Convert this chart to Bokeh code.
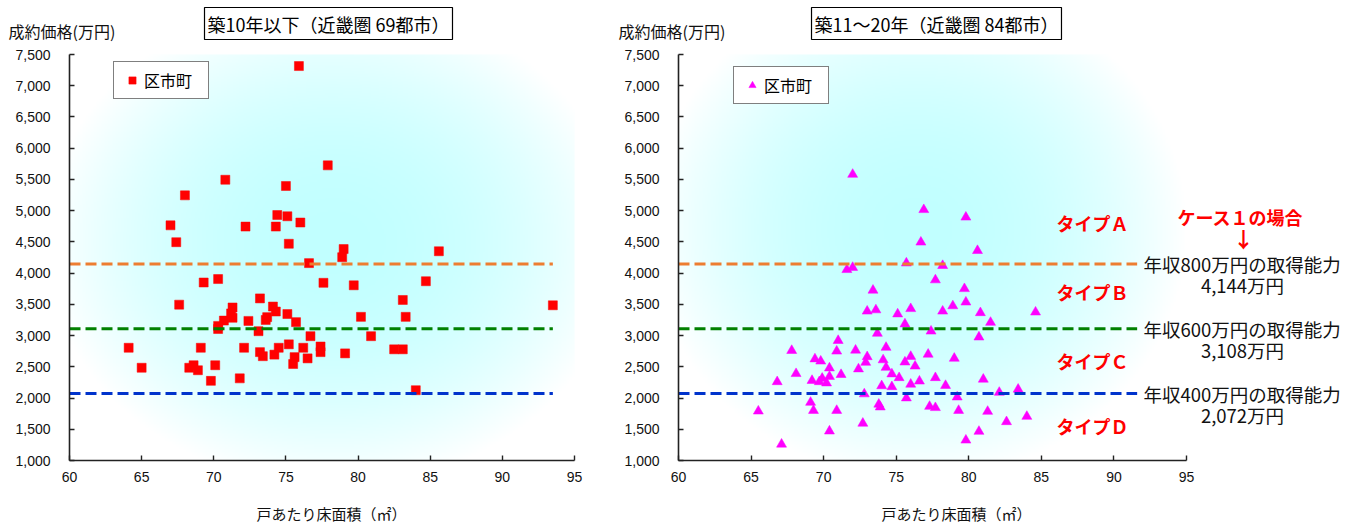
import numpy as np
from bokeh.plotting import figure
from bokeh.layouts import row
from bokeh.models import (Label, Legend, LegendItem, Range1d, FixedTicker,
                          NumeralTickFormatter)
from bokeh.embed import file_html
from bokeh.resources import INLINE

# 築10年以下（近畿圏69都市）: floor area per unit (㎡) and contract price (万円)
new_area = [75.9, 70.8, 68.0, 75.0, 67.0, 72.2, 74.3, 74.4, 75.1, 76.0,
            67.4, 75.2, 77.9, 79.0, 78.9, 85.6, 76.6, 69.3, 70.3, 67.6,
            73.2, 74.1, 74.3, 71.3, 71.2, 71.3, 70.7, 70.3, 70.3, 72.4,
            73.1, 73.7, 73.6, 75.1, 75.7, 76.7, 64.1, 65.0, 68.3, 68.6,
            68.9, 69.8, 70.1, 69.1, 71.8, 72.1, 73.2, 73.4, 74.2, 74.5,
            75.2, 75.6, 75.5, 76.2, 76.5, 77.6, 79.7, 84.7, 83.1, 93.5,
            80.2, 83.3, 80.9, 77.4, 77.4, 79.1, 82.5, 83.1, 84.0]
new_price = [7315, 5495, 5245, 5395, 4765, 4745, 4745, 4930, 4910, 4810,
             4495, 4470, 5725, 4385, 4255, 4350, 4160, 3850, 3905, 3495,
             3595, 3465, 3385, 3450, 3355, 3285, 3240, 3155, 3105, 3235,
             3070, 3295, 3250, 3345, 3215, 2990, 2805, 2485, 2485, 2525,
             2445, 2275, 2525, 2805, 2315, 2805, 2735, 2670, 2695, 2805,
             2860, 2655, 2545, 2805, 2635, 3845, 3805, 3870, 3570, 3485,
             3300, 3300, 2990, 2825, 2735, 2715, 2780, 2780, 2125]

# 築11～20年（近畿圏84都市）
mid_area = [67.8, 69.4, 69.8, 70.4, 68.1, 66.8, 69.2, 69.9, 69.7, 70.2,
            70.4, 70.9, 71.0, 71.2, 69.1, 69.3, 70.9, 65.5, 70.4, 67.1,
            72.0, 76.9, 79.8, 76.7, 80.6, 71.6, 72.0, 75.7, 78.2, 77.7,
            73.4, 79.7, 79.8, 73.0, 73.6, 75.1, 76.0, 78.2, 78.9, 80.8,
            81.5, 75.6, 73.7, 77.4, 80.7, 72.2, 74.3, 73.0, 72.9, 74.1,
            76.0, 77.2, 79.0, 75.6, 76.3, 74.3, 72.4, 74.7, 75.2, 74.0,
            74.7, 76.0, 76.6, 77.7, 78.4, 81.0, 72.8, 75.7, 73.8, 73.9,
            79.2, 82.1, 83.4, 77.3, 77.7, 79.3, 81.3, 84.0, 82.6, 72.7,
            80.7, 79.8, 84.6]
mid_price = [2760, 2625, 2590, 2480, 2390, 2260, 2280, 2315, 2260, 2240,
             2345, 2750, 2920, 2375, 1930, 1800, 1800, 1790, 1470, 1260,
             5580, 5015, 4895, 4495, 4360, 4055, 4090, 4160, 4120, 3890,
             3725, 3750, 3535, 3390, 3410, 3345, 3430, 3390, 3475, 3365,
             3210, 3185, 3035, 3070, 2975, 2765, 2810, 2660, 2570, 2610,
             2665, 2700, 2635, 2575, 2510, 2490, 2465, 2385, 2325, 2195,
             2180, 2220, 2270, 2325, 2200, 2300, 2065, 2000, 1900, 1855,
             2015, 2090, 2140, 1865, 1845, 1800, 1785, 1705, 1620, 1595,
             1465, 1325, 3375]

# purchasing power by annual income (年収, 万円) -> 取得能力 (万円)
incomes = [800, 600, 400]
abilities = [4144, 3108, 2072]
level_colors = ["#ED7D31", "#008000", "#0033CC"]

# price bands between the purchasing-power levels
type_names = ["タイプＡ", "タイプＢ", "タイプＣ", "タイプＤ"]
type_label_y = [4810, 3690, 2590, 1560]

x_ticks = [60, 65, 70, 75, 80, 85, 90, 95]
y_ticks = list(range(1000, 8000, 500))

JP = "Noto Sans CJK JP"
NUM = "Liberation Sans"

X0, X1, Y0, Y1 = 60, 95, 1000, 7500
H = 525
PLOT_TOP, PLOT_BOTTOM = 54, 460          # pixel rows of the 7,500 / 1,000 levels
YPPU = (PLOT_BOTTOM - PLOT_TOP) / (Y1 - Y0)


class Panel:
    """Canvas-filling frame; axes pinned at x=60 / y=1000 and bounded to the data box."""

    def __init__(self, width, left_px, right_px):
        self.xppu = (right_px - left_px) / (X1 - X0)
        self.left_px = left_px
        xs = X0 - left_px / self.xppu
        xe = X1 + (width - right_px) / self.xppu
        ys = Y0 - (H - PLOT_BOTTOM) / YPPU
        ye = Y1 + PLOT_TOP / YPPU
        self.p = figure(width=width, height=H, x_range=Range1d(xs, xe),
                        y_range=Range1d(ys, ye), output_backend="svg",
                        toolbar_location=None, min_border=0,
                        min_border_left=0, min_border_right=0,
                        min_border_top=0, min_border_bottom=0)

    def x(self, px):
        return X0 + (px - self.left_px) / self.xppu

    @staticmethod
    def y(py):
        return Y1 - (py - PLOT_TOP) / YPPU


def gradient(cx, cy, hx, hy, nx=320, ny=260):
    gx = np.linspace(X0, X1, nx)
    gy = np.linspace(Y0, Y1, ny)
    X, Y = np.meshgrid(gx, gy)
    d = np.sqrt(((X - cx) / hx) ** 2 + ((Y - cy) / hy) ** 2)
    t = np.clip(1.0 - d ** 2.0, 0.0, 1.0)
    img = np.empty((ny, nx), dtype=np.uint32)
    v = img.view(dtype=np.uint8).reshape((ny, nx, 4))
    v[:, :, 0] = (255 - 62 * t).astype(np.uint8)
    v[:, :, 1] = 255
    v[:, :, 2] = 255
    v[:, :, 3] = 255
    return img


def make_panel(width, left_px, right_px, title_text, title_px, ylabel_px,
               xlabel_px, grad):
    pan = Panel(width, left_px, right_px)
    p = pan.p
    p.outline_line_color = None
    p.grid.visible = False
    p.background_fill_color = "white"
    p.border_fill_color = "white"

    p.image_rgba(image=[gradient(*grad)], x=X0, y=Y0, dw=X1 - X0, dh=Y1 - Y0)

    p.xaxis.fixed_location = Y0
    p.yaxis.fixed_location = X0
    p.xaxis.bounds = (X0, X1)
    p.yaxis.bounds = (Y0, Y1)
    for ax in (p.xaxis[0], p.yaxis[0]):
        ax.axis_line_color = "#222222"
        ax.axis_line_width = 1.6
        ax.major_tick_line_color = "#222222"
        ax.major_tick_line_width = 1.4
        ax.major_tick_in = 5
        ax.major_tick_out = 0
        ax.minor_tick_in = 0
        ax.minor_tick_out = 0
        ax.major_label_text_font = NUM
        ax.major_label_text_font_size = "14px"
        ax.major_label_text_color = "#111111"
    p.xaxis.ticker = FixedTicker(ticks=x_ticks)
    p.yaxis.ticker = FixedTicker(ticks=y_ticks)
    p.yaxis.formatter = NumeralTickFormatter(format="0,0")
    p.xaxis.major_label_standoff = 11
    p.yaxis.major_label_standoff = 19

    p.add_layout(Label(x=pan.x(title_px[0]), y=pan.y(title_px[1]),
                       text=title_text, text_align="center",
                       text_baseline="middle", text_font=JP,
                       text_font_size="18px", text_color="black",
                       border_line_color="black", border_line_width=1.2,
                       background_fill_color="white", padding=3))
    p.add_layout(Label(x=pan.x(ylabel_px[0]), y=pan.y(ylabel_px[1]),
                       text="成約価格(万円)", text_align="left",
                       text_baseline="middle", text_font=JP,
                       text_font_size="16px", text_color="#111111"))
    p.add_layout(Label(x=pan.x(xlabel_px[0]), y=pan.y(xlabel_px[1]),
                       text="戸あたり床面積（㎡）", text_align="center",
                       text_baseline="middle", text_font=JP,
                       text_font_size="15px", text_color="#111111"))
    return pan


def add_legend(p, renderer, loc):
    leg = Legend(items=[LegendItem(label="区市町", renderers=[renderer])],
                 location=loc, padding=6, margin=0, spacing=0,
                 glyph_width=24, glyph_height=18, label_standoff=0,
                 label_width=58, label_height=18,
                 label_text_font=JP, label_text_font_size="16px",
                 label_text_color="black",
                 border_line_color="black", border_line_width=1.2,
                 background_fill_color="white", background_fill_alpha=1.0)
    p.add_layout(leg)


# ---- left panel: 築10年以下 ----
left = make_panel(600, 69, 574, "築10年以下（近畿圏 69都市）", (328, 23),
                  (8, 30), (331, 513), (78.3, 4500, 20.0, 3900))
p1 = left.p
r1 = p1.scatter(new_area, new_price, marker="square", size=9,
                fill_color="#FF0000", line_color="#FF0000", line_width=0.5)
p1.segment(x0=[X0] * 3, y0=abilities, x1=[93.5] * 3, y1=abilities,
           line_color=level_colors, line_width=3, line_dash="11 5")
add_legend(p1, r1, (113, H - 99))

# ---- right panel: 築11～20年 (page x offset 600) ----
right = make_panel(760, 78, 586, "築11～20年（近畿圏 84都市）", (336, 23),
                   (18, 30), (356, 513), (76.5, 4700, 18.5, 4000))
p2 = right.p
r2 = p2.scatter(mid_area, mid_price, marker="triangle", size=10,
                fill_color="#FF00FF", line_color="#FF00FF", line_width=0.5)
p2.segment(x0=[X0] * 3, y0=abilities, x1=[91.6] * 3, y1=abilities,
           line_color=level_colors, line_width=3, line_dash="11 5")
add_legend(p2, r2, (133, H - 104))

for inc, amt in zip(incomes, abilities):
    p2.add_layout(Label(x=X1, y=amt, x_offset=-43, y_offset=0,
                        text=f"年収{inc}万円の取得能力", text_align="left",
                        text_baseline="middle", text_font=JP,
                        text_font_size="18.5px", text_color="#111111"))
    p2.add_layout(Label(x=X1, y=amt, x_offset=56, y_offset=-21,
                        text=f"{amt:,}万円", text_align="center",
                        text_baseline="middle", text_font=JP,
                        text_font_size="18.5px", text_color="#111111"))

for name, ty in zip(type_names, type_label_y):
    p2.add_layout(Label(x=X1, y=ty, x_offset=-130, text=name,
                        text_align="left", text_baseline="middle",
                        text_font=JP, text_font_size="18px",
                        text_font_style="bold", text_color="#FF0000"))

p2.add_layout(Label(x=X1, y=abilities[0], x_offset=-9, y_offset=47,
                    text="ケース１の場合", text_align="left",
                    text_baseline="middle", text_font=JP, text_font_size="18px",
                    text_font_style="bold", text_color="#FF0000"))
p2.add_layout(Label(x=X1, y=abilities[0], x_offset=57, y_offset=26,
                    text="↓", text_align="center", text_baseline="middle",
                    text_font=JP, text_font_size="21px",
                    text_font_style="bold", text_color="#FF0000"))

layout = row(p1, p2)
open("out.html", "w").write(file_html(layout, INLINE))
